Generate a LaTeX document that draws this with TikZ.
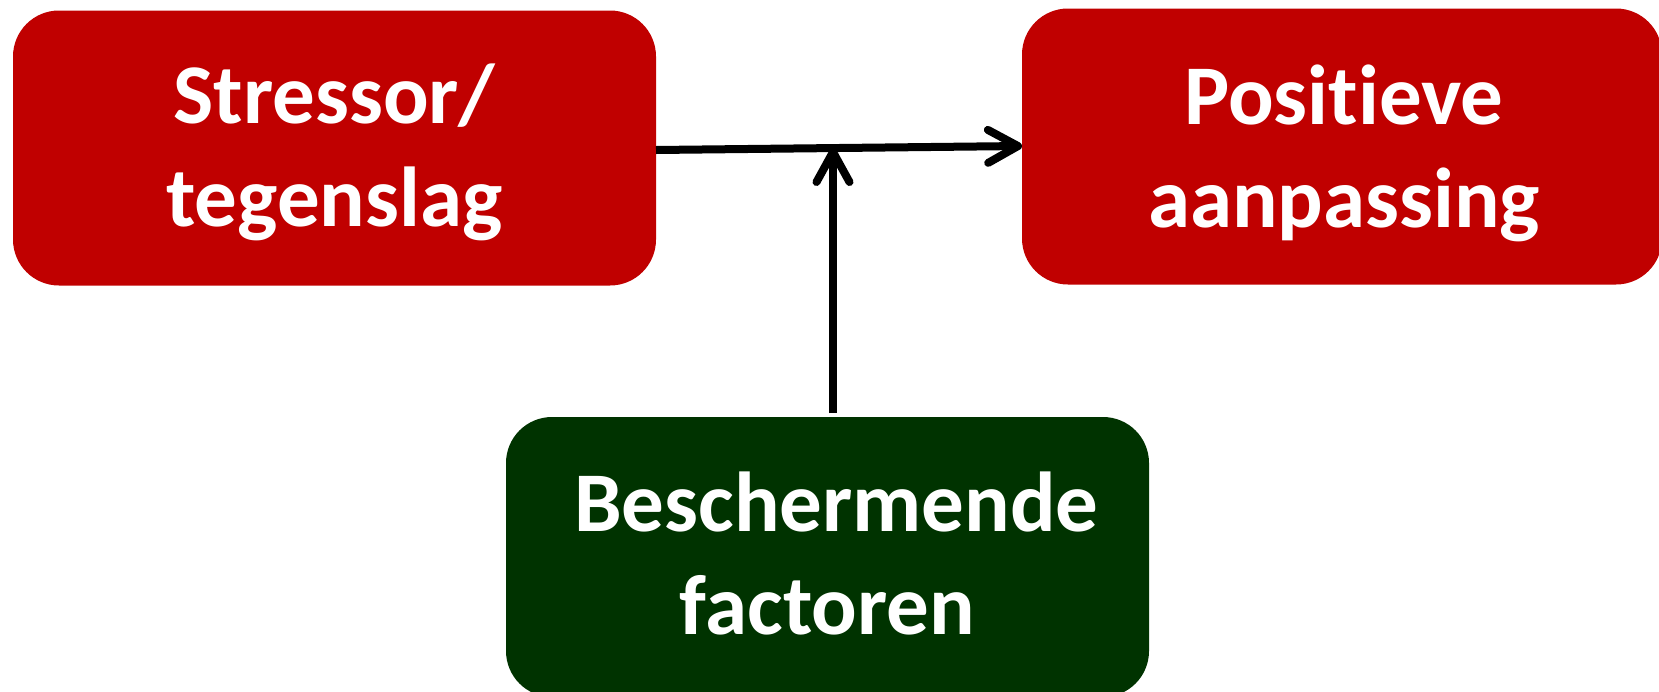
\documentclass[tikz,border=0pt]{standalone}
\usepackage{fontspec}
\setmainfont{Carlito}[Ligatures={NoCommon}]
\usetikzlibrary{arrows.meta}
\definecolor{boxred}{HTML}{C00000}
\definecolor{boxgreen}{HTML}{003300}
\tikzset{
  box/.style={rounded corners=46pt, inner sep=0pt},
  redbox/.style={box, fill=boxred},
  greenbox/.style={box, fill=boxgreen},
  txt/.style={inner sep=0pt, text=white, align=center,
    font=\fontsize{85}{103}\selectfont\bfseries},
  conn/.style={line width=8pt, -{Straight Barb[length=30pt,width=33pt,line cap=round,line join=round]}}
}
\begin{document}
\begin{tikzpicture}[x=1pt,y=-1pt]
\useasboundingbox (0,0) rectangle (1659,691);
\node[redbox, minimum width=643pt, minimum height=275pt] (b1) at (334.5,148) {};
\node[redbox, minimum width=640pt, minimum height=276pt] (b2) at (1342,146.5) {};
\node[greenbox, minimum width=643pt, minimum height=280pt] (b3) at (827.5,557) {};
\node[txt] (t1) at ([yshift=-4pt]b1.center) {Stressor/\\tegenslag};
\node[txt] (t2) at ([xshift=2pt,yshift=-7pt]b2.center) {Posit\kern0pt ieve\\aanpassing};
\node[txt] (t3) at ([yshift=4pt]b3.center) {\hspace*{18pt}Beschermende\\factoren};
\coordinate (hs) at (656,150);
\coordinate (he) at (1022,146);
\coordinate (vt) at (833,148);
\coordinate (vb) at (833,413);
\draw[conn] (hs) -- (he);
\draw[conn] (vb) -- (vt);
\end{tikzpicture}
\end{document}
